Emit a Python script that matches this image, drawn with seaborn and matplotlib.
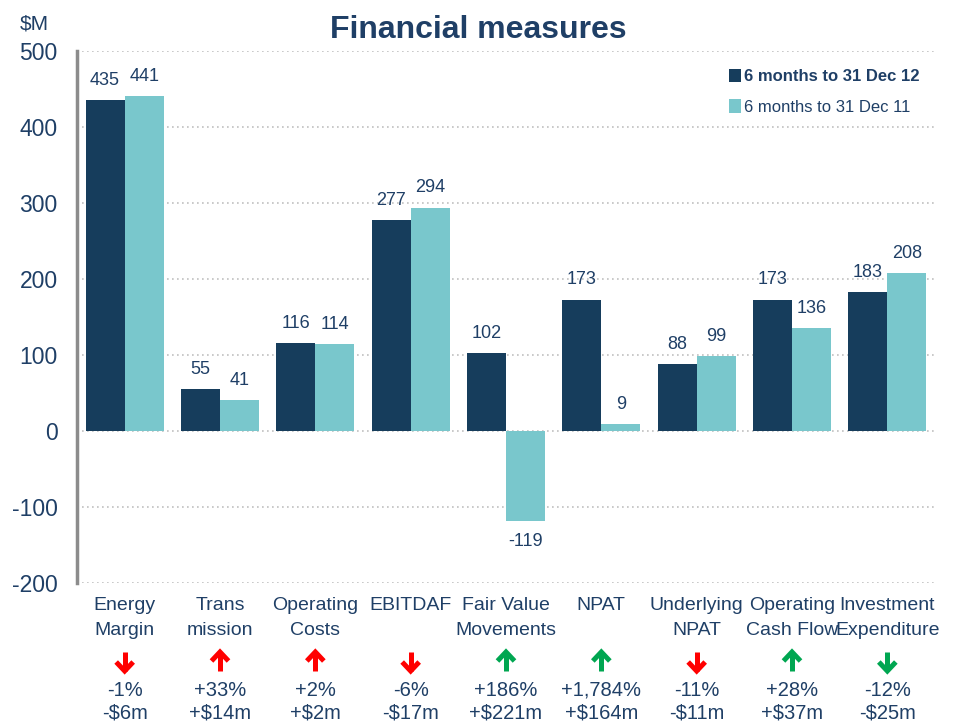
import matplotlib
matplotlib.use("Agg")
import matplotlib.pyplot as plt
from matplotlib.transforms import blended_transform_factory
import numpy as np
import pandas as pd
import seaborn as sns

categories = ["Energy\nMargin", "Trans\nmission", "Operating\nCosts", "EBITDAF",
              "Fair Value\nMovements", "NPAT", "Underlying\nNPAT",
              "Operating\nCash Flow", "Investment\nExpenditure"]
dec12 = [435, 55, 116, 277, 102, 173, 88, 173, 183]
dec11 = [441, 41, 114, 294, -119, 9, 99, 136, 208]
series = ["6 months to 31 Dec 12", "6 months to 31 Dec 11"]
pct_change = ["-1%", "+33%", "+2%", "-6%", "+186%", "+1,784%", "-11%", "+28%", "-12%"]
abs_change = ["-$6m", "+$14m", "+$2m", "-$17m", "+$221m", "+$164m", "-$11m", "+$37m", "-$25m"]
arrow_dir = ["down", "up", "up", "down", "up", "up", "down", "up", "down"]
arrow_col = ["red", "red", "red", "red", "green", "green", "red", "green", "green"]

dark = "#163D5C"
light = "#79C7CC"
txt = "#1F3F66"
arrow_rgb = {"red": "#FF0000", "green": "#00A651"}

df = pd.DataFrame({
    "category": categories * 2,
    "value": dec12 + dec11,
    "period": [series[0]] * len(categories) + [series[1]] * len(categories),
})

sns.set_style("white")
plt.rcParams["font.family"] = ["Liberation Sans", "DejaVu Sans"]

fig = plt.figure(figsize=(9.56, 7.24), dpi=100)
ax = fig.add_axes([77 / 956, 1 - 583 / 724, (935 - 77) / 956, (583 - 51) / 724])

sns.barplot(data=df, x="category", y="value", hue="period", order=categories,
            hue_order=series, palette=[dark, light], width=0.82, saturation=1,
            linewidth=0, ax=ax, legend=True)

ax.set_ylim(-200, 500)
ax.set_xlim(-0.5, len(categories) - 0.5)
ax.set_yticks(range(-200, 501, 100))
ax.set_yticklabels([str(v) for v in range(-200, 501, 100)], fontsize=16.5, color=txt)
for y in range(-200, 501, 100):
    ax.axhline(y, color="#C0C0C0", lw=1.2, ls=(0, (1, 2)), zorder=0)
ax.tick_params(axis="y", length=8, width=2, color="#8C8C8C", pad=6)
ax.tick_params(axis="x", length=0, pad=10)
for s in ["top", "right", "bottom"]:
    ax.spines[s].set_visible(False)
ax.spines["left"].set_color("#8C8C8C")
ax.spines["left"].set_linewidth(2.5)
ax.set_xlabel("")
ax.set_ylabel("")
ax.set_xticks(range(len(categories)))
ax.set_xticklabels(categories, fontsize=14, color=txt, linespacing=1.6)

for cont in ax.containers:
    ax.bar_label(cont, fmt="%d", padding=8, fontsize=13, color=txt)

trans = blended_transform_factory(ax.transData, ax.transAxes)

def fy(py):
    return (583 - py) / 532

hw = 8.5 / 95.3  # arrow head half width in category units
for i in range(len(categories)):
    col = arrow_rgb[arrow_col[i]]
    if arrow_dir[i] == "up":
        tip, tail, back = fy(652), fy(671), fy(661)
    else:
        tip, tail, back = fy(671), fy(652), fy(662)
    ax.plot([i, i], [tail, tip], transform=trans, color=col, lw=3.6,
            solid_capstyle="butt", clip_on=False)
    ax.plot([i - hw, i, i + hw], [back, tip, back], transform=trans, color=col,
            lw=3.6, solid_joinstyle="miter", solid_capstyle="butt", clip_on=False)
    ax.text(i, fy(690), pct_change[i], transform=trans, ha="center", va="center",
            fontsize=14.5, color=txt)
    ax.text(i, fy(713), abs_change[i], transform=trans, ha="center", va="center",
            fontsize=14.5, color=txt)

leg = ax.legend(loc="upper right", bbox_to_anchor=(1.0, 0.995), frameon=False,
                fontsize=12, handlelength=0.7, handleheight=0.9, handletextpad=0.2,
                labelspacing=0.9)
for t in leg.get_texts():
    t.set_color(txt)
leg.get_texts()[0].set_fontweight("bold")

fig.text(478 / 956, 1 - 30 / 724, "Financial measures", ha="center", va="center",
         fontsize=23, fontweight="bold", color=txt)
fig.text(20 / 956, 1 - 24 / 724, "$M", ha="left", va="center", fontsize=15, color=txt)

fig.savefig("out.png", dpi=100)
